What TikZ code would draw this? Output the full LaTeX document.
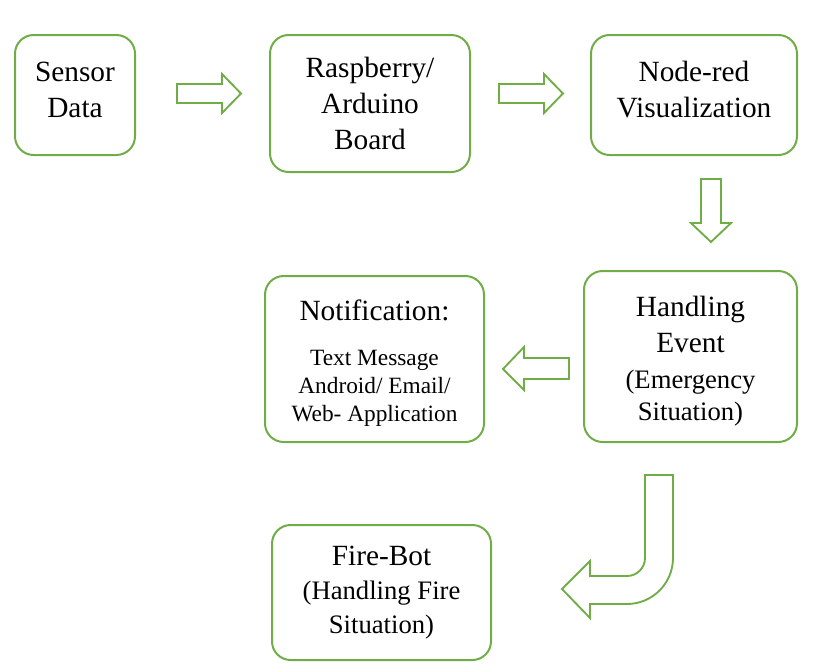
\documentclass[tikz,border=0pt]{standalone}
\usepackage{fontspec}
\setmainfont{Liberation Serif}
\usetikzlibrary{positioning}

\definecolor{boxgreen}{RGB}{112,173,71}

\begin{document}
\begin{tikzpicture}[
    x=0.75pt, y=-0.75pt,
    stage/.style={draw=boxgreen, line width=1.5pt, rounded corners=14pt, align=center, inner sep=0pt,
                  font=\fontsize{22}{27}\selectfont},
    blockarrow/.style={draw=boxgreen, line width=1.4pt, line join=miter},
]
\useasboundingbox (0,0) rectangle (819,672);

% Stage boxes
\node[stage, minimum width=90pt, minimum height=90pt, text depth=7.5pt] (sensor) at (75,95) {Sensor\\Data};
\node[stage, minimum width=150pt, minimum height=102.75pt] (board) at (370,103.5) {Raspberry/\\Arduino\\Board};
\node[stage, minimum width=154.5pt, minimum height=90pt, text depth=8pt] (nodered) at (694,95) {Node-red\\Visualization};
\node[stage, minimum width=159.75pt, minimum height=128.25pt] (event) at (690.5,356.5)
    {\rule{0pt}{22pt}Handling\\Event\\\fontsize{20}{24}\selectfont (Emergency\\[-3pt]\fontsize{20}{24}\selectfont Situation)};
\node[stage, minimum width=164.25pt, minimum height=124.5pt] (notif) at (374.5,359)
    {\rule{0pt}{21.5pt}Notification:\\[7pt]\fontsize{17.5}{21}\selectfont Text Message\\[-6pt]\fontsize{17.5}{21}\selectfont Android/ Email/\\[-6pt]\fontsize{17.5}{21}\selectfont Web- Application};
\node[stage, minimum width=164.25pt, minimum height=101.25pt] (firebot) at (381.5,592.5)
    {Fire-Bot\\[-1.25pt]\fontsize{20}{25.5}\selectfont (Handling Fire\\[-1.5pt]\fontsize{20}{25.5}\selectfont Situation)};

% Block arrows
% sensor -> board
\draw[blockarrow] (177,84) -- (222,84) -- (222,74) -- (241,93.5) -- (222,113) -- (222,103) -- (177,103) -- cycle;
% board -> node-red
\draw[blockarrow] (499,84) -- (544,84) -- (544,74) -- (563,93.5) -- (544,113) -- (544,103) -- (499,103) -- cycle;
% node-red -> event
\draw[blockarrow] (701,179) -- (721,179) -- (721,223) -- (731,223) -- (711,242) -- (691,223) -- (701,223) -- cycle;
% event -> notification
\draw[blockarrow] (569,358) -- (524,358) -- (524,347) -- (503,369) -- (524,390) -- (524,379) -- (569,379) -- cycle;
% event -> fire-bot (bent)
\draw[blockarrow] (645,475) -- (673,475) -- (673,558)
    arc[start angle=0, end angle=90, radius=46] -- (590,604) -- (590,618) -- (562,589) -- (590,561) -- (590,576)
    -- (627,576) arc[start angle=90, end angle=0, radius=18] -- cycle;

\end{tikzpicture}
\end{document}
